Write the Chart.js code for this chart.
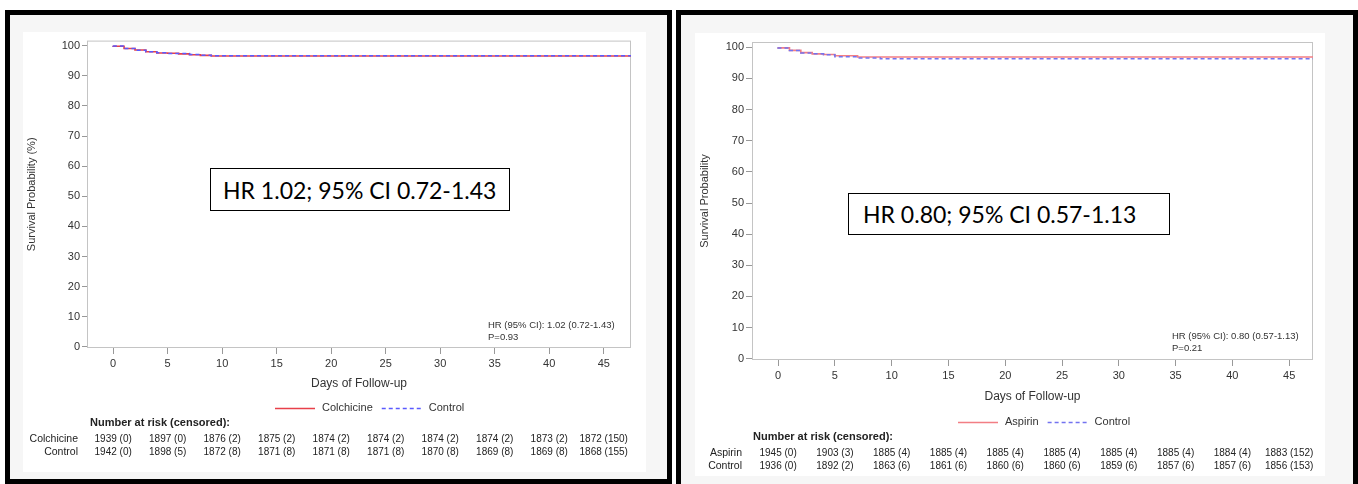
<!DOCTYPE html>
<html>
<head>
<meta charset="utf-8">
<script src="https://cdn.jsdelivr.net/npm/chart.js@4.4.0/dist/chart.umd.min.js"></script>
<style>
  body { margin: 0; width: 1358px; height: 484px; overflow: hidden; position: relative; background: #fff; }
  .frame { position: absolute; box-sizing: border-box; border: 5px solid #000; background: #f6f6f6; }
  #frameL { left: 5px; top: 10px; width: 667px; height: 474px; }
  #frameR { left: 676px; top: 10px; width: 682px; height: 480px; }
  canvas { position: absolute; background: #fff; }
  #kmLeft { left: 23px; top: 32px; }
  #kmRight { left: 695px; top: 33px; }
  .hrbox { position: absolute; box-sizing: border-box; border: 1px solid #000; background: #fff;
           font-family: Lato, "Liberation Sans", sans-serif; font-size: 23px; color: #000;
           display: flex; align-items: center; white-space: nowrap; }
  #hrLeft { left: 210px; top: 168px; width: 300px; height: 43px; padding-left: 12px; }
  #hrRight { left: 848px; top: 193px; width: 322px; height: 42px; padding-left: 14px; }
</style>
</head>
<body>
<div class="frame" id="frameL"></div>
<div class="frame" id="frameR"></div>
<canvas id="kmLeft" width="623" height="440"></canvas>
<canvas id="kmRight" width="630" height="443"></canvas>
<div class="hrbox" id="hrLeft">HR 1.02; 95% CI 0.72-1.43</div>
<div class="hrbox" id="hrRight">HR 0.80; 95% CI 0.57-1.13</div>

<script>
// axis ticks
var dayTicks = [0, 5, 10, 15, 20, 25, 30, 35, 40, 45];
var survTicks = [0, 10, 20, 30, 40, 50, 60, 70, 80, 90, 100];

// left: colchicine vs control (days, survival %)
var colchDays = [0, 1, 2, 3, 4, 5, 6, 7, 8, 9, 12, 47.5];
var colchSurv = [100, 99.8, 99.1, 98.6, 98.0, 97.6, 97.5, 97.3, 97.0, 96.8, 96.6, 96.6];
var ctrlLDays = [0, 1, 2, 3, 4, 5, 7, 8, 9, 16, 47.5];
var ctrlLSurv = [100, 99.9, 99.1, 98.5, 98.0, 97.7, 97.4, 97.1, 96.8, 96.65, 96.65];
var colchRisk = ['1939 (0)', '1897 (0)', '1876 (2)', '1875 (2)', '1874 (2)', '1874 (2)', '1874 (2)', '1874 (2)', '1873 (2)', '1872 (150)'];
var ctrlLRisk = ['1942 (0)', '1898 (5)', '1872 (8)', '1871 (8)', '1871 (8)', '1871 (8)', '1870 (8)', '1869 (8)', '1869 (8)', '1868 (155)'];

// right: aspirin vs control
var aspDays = [0, 1, 2, 3, 4, 5, 7, 43, 47.1];
var aspSurv = [100, 99.8, 99.0, 98.3, 97.9, 97.7, 97.3, 96.9, 96.9];
var ctrlRDays = [0, 1, 2, 3, 4, 5, 7, 9, 31, 47.1];
var ctrlRSurv = [100, 99.8, 99.0, 98.2, 97.9, 97.6, 97.0, 96.6, 96.3, 96.3];
var aspRisk = ['1945 (0)', '1903 (3)', '1885 (4)', '1885 (4)', '1885 (4)', '1885 (4)', '1885 (4)', '1885 (4)', '1884 (4)', '1883 (152)'];
var ctrlRRisk = ['1936 (0)', '1892 (2)', '1863 (6)', '1861 (6)', '1860 (6)', '1860 (6)', '1859 (6)', '1857 (6)', '1857 (6)', '1856 (153)'];

var FONT = '"Liberation Sans", Arial, sans-serif';
var TXT = '#333';

function toPoints(days, surv) {
  var pts = [];
  for (var i = 0; i < days.length; ++i) pts.push({x: days[i], y: surv[i]});
  return pts;
}

// frame, little HR note, legend and the number-at-risk table
var kmExtras = {
  id: 'kmExtras',
  beforeDatasetsDraw: function(chart) {
    var a = chart.chartArea, ctx = chart.ctx;
    ctx.save();
    ctx.strokeStyle = '#c4c4c4';
    ctx.lineWidth = 1;
    ctx.strokeRect(a.left + 0.5, a.top + 0.5, a.right - a.left - 1, a.bottom - a.top - 1);
    ctx.restore();
  },
  afterDraw: function(chart, args, o) {
    var ctx = chart.ctx, xs = chart.scales.x;
    var i, j;
    ctx.save();
    ctx.textBaseline = 'middle';
    ctx.fillStyle = TXT;

    ctx.font = '9.5px ' + FONT;
    ctx.textAlign = 'left';
    for (i = 0; i < o.note.length; ++i) ctx.fillText(o.note[i], o.noteX, o.noteY + i * 12.5);

    // legend
    var lx = o.legendX;
    var ds = chart.data.datasets;
    ctx.font = '11px ' + FONT;
    for (i = 0; i < ds.length; ++i) {
      ctx.strokeStyle = ds[i].borderColor;
      ctx.lineWidth = 1.3;
      ctx.setLineDash(ds[i].borderDash || []);
      ctx.beginPath();
      ctx.moveTo(lx, o.legendY + 0.5);
      ctx.lineTo(lx + 40, o.legendY + 0.5);
      ctx.stroke();
      lx += 47;
      ctx.fillStyle = TXT;
      ctx.fillText(ds[i].label, lx, o.legendY);
      lx += ctx.measureText(ds[i].label).width + 9;
    }
    ctx.setLineDash([]);

    // number at risk
    ctx.fillStyle = '#222';
    ctx.font = 'bold 11px ' + FONT;
    ctx.fillText('Number at risk (censored):', o.tableX, o.headerY);
    for (j = 0; j < o.rows.length; ++j) {
      var y = o.headerY + 16 + j * 13;
      ctx.font = '10.5px ' + FONT;
      ctx.textAlign = 'right';
      ctx.fillText(o.rows[j].label, o.labelX, y);
      ctx.font = '10px ' + FONT;
      ctx.textAlign = 'center';
      for (i = 0; i < dayTicks.length; ++i) {
        ctx.fillText(o.rows[j].values[i], xs.getPixelForValue(dayTicks[i]), y);
      }
    }
    ctx.restore();
  }
};

function kmChart(id, c) {
  var ctx = document.getElementById(id).getContext('2d');
  return new Chart(ctx, {
    type: 'line',
    data: {
      datasets: [
        { label: c.names[0], data: toPoints(c.tDays, c.tSurv), borderColor: c.red,
          borderWidth: 1.6, stepped: 'after', pointRadius: 0, order: 1 },
        { label: c.names[1], data: toPoints(c.cDays, c.cSurv), borderColor: c.blue,
          borderWidth: 1.5, borderDash: [4, 3], stepped: 'after', pointRadius: 0, order: 0 }
      ]
    },
    options: {
      responsive: false,
      animation: false,
      layout: { padding: c.pad },
      plugins: {
        legend: { display: false },
        tooltip: { enabled: false },
        kmExtras: c.extras
      },
      scales: {
        x: {
          type: 'linear', min: c.xMin, max: c.xMax,
          afterBuildTicks: function(s) { s.ticks = dayTicks.map(function(v) { return {value: v}; }); },
          afterFit: function(s) { s.height = c.xH; },
          grid: { drawOnChartArea: false, tickLength: 6, color: '#999' },
          border: { display: false },
          ticks: { color: TXT, font: { family: FONT, size: 11 }, padding: 3, maxRotation: 0 },
          title: { display: true, text: 'Days of Follow-up', color: TXT,
                   font: { family: FONT, size: 12 }, padding: { top: 0, bottom: 1 } }
        },
        y: {
          min: -0.4, max: 101.7,
          afterBuildTicks: function(s) { s.ticks = survTicks.map(function(v) { return {value: v}; }); },
          afterFit: function(s) { s.width = c.yW; },
          grid: { drawOnChartArea: false, tickLength: c.yTick, color: '#999' },
          border: { display: false },
          ticks: { color: TXT, font: { family: FONT, size: 11 }, padding: 2 },
          title: { display: true, text: c.yTitle, color: TXT,
                   font: { family: FONT, size: 11 }, padding: { top: c.yTitlePad, bottom: 0 } }
        }
      }
    },
    plugins: [kmExtras]
  });
}

kmChart('kmLeft', {
  names: ['Colchicine', 'Control'],
  tDays: colchDays, tSurv: colchSurv, cDays: ctrlLDays, cSurv: ctrlLSurv,
  red: '#e8404a', blue: '#5a5aff',
  xMin: -2.4, xMax: 47.5, xH: 44, yW: 64, yTick: 5, yTitlePad: 2.4,
  yTitle: 'Survival Probability (%)',
  pad: { left: 0, top: 8, right: 15, bottom: 80 },
  extras: {
    note: ['HR (95% CI): 1.02 (0.72-1.43)', 'P=0.93'], noteX: 465, noteY: 293,
    legendX: 252, legendY: 376,
    tableX: 67, headerY: 391, labelX: 55,
    rows: [{label: 'Colchicine', values: colchRisk}, {label: 'Control', values: ctrlLRisk}]
  }
});

kmChart('kmRight', {
  names: ['Aspirin', 'Control'],
  tDays: aspDays, tSurv: aspSurv, cDays: ctrlRDays, cSurv: ctrlRSurv,
  red: '#f27e84', blue: '#7373f0',
  xMin: -2.3, xMax: 47.1, xH: 45, yW: 57, yTick: 6, yTitlePad: 3.4,
  yTitle: 'Survival Probability',
  pad: { left: 0, top: 9, right: 12, bottom: 71 },
  extras: {
    note: ['HR (95% CI): 0.80 (0.57-1.13)', 'P=0.21'], noteX: 477, noteY: 303,
    legendX: 263, legendY: 389,
    tableX: 58, headerY: 404, labelX: 47,
    rows: [{label: 'Aspirin', values: aspRisk}, {label: 'Control', values: ctrlRRisk}]
  }
});
</script>
</body>
</html>
